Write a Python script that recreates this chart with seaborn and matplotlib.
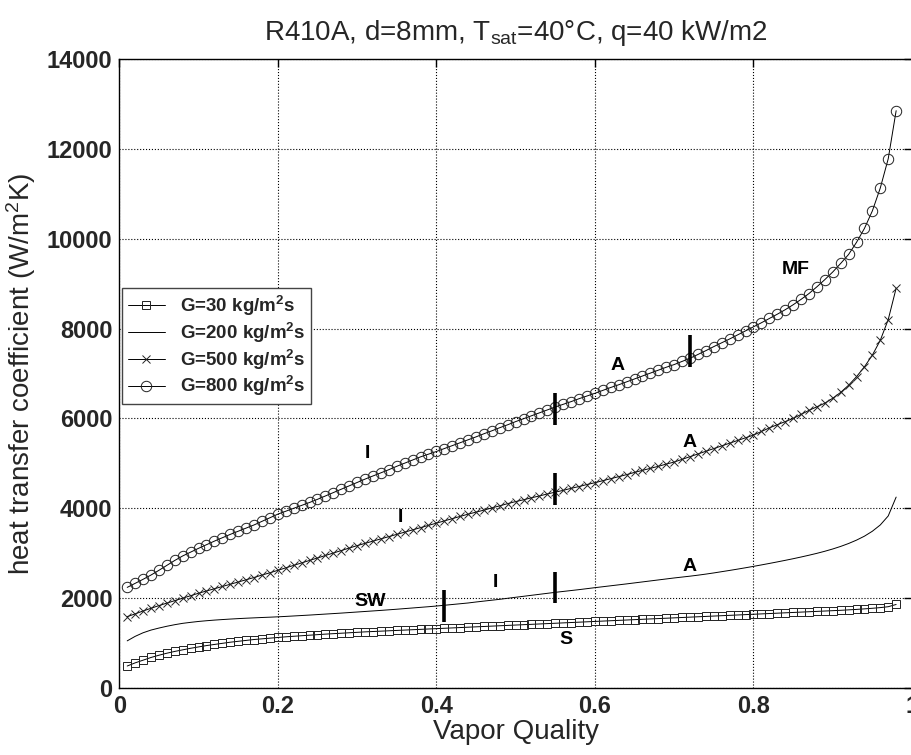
import numpy as np
import pandas as pd
import matplotlib
matplotlib.use("Agg")
import matplotlib.pyplot as plt
import seaborn as sns

# ---------------- data ----------------
quality = [round(0.01 * i, 2) for i in range(1, 99)]

h_G30 = [490, 560, 620, 680, 730, 775, 815, 850, 885, 915,
         945, 970, 995, 1020, 1040, 1060, 1080, 1095, 1110, 1125,
         1140, 1152, 1164, 1176, 1188, 1200, 1210, 1220, 1230, 1240,
         1250, 1258, 1266, 1274, 1282, 1290, 1298, 1306, 1314, 1322,
         1330, 1338, 1346, 1354, 1362, 1370, 1378, 1386, 1394, 1402,
         1410, 1418, 1426, 1434, 1442, 1450, 1458, 1466, 1474, 1482,
         1490, 1498, 1506, 1514, 1522, 1530, 1538, 1546, 1554, 1562,
         1570, 1578, 1586, 1594, 1602, 1610, 1618, 1626, 1634, 1642,
         1650, 1658, 1666, 1674, 1682, 1690, 1698, 1706, 1714, 1722,
         1730, 1740, 1750, 1762, 1775, 1790, 1810, 1860]

h_G200 = [1050, 1150, 1230, 1290, 1335, 1375, 1410, 1440, 1462, 1482,
          1498, 1512, 1524, 1535, 1545, 1554, 1562, 1570, 1577, 1585,
          1594, 1604, 1614, 1624, 1635, 1646, 1657, 1668, 1680, 1692,
          1704, 1716, 1728, 1741, 1754, 1768, 1782, 1796, 1810, 1825,
          1842, 1859, 1876, 1893, 1915, 1935, 1955, 1975, 1998, 2020,
          2042, 2064, 2086, 2108, 2130, 2150, 2170, 2190, 2212, 2234,
          2255, 2276, 2297, 2318, 2340, 2362, 2384, 2406, 2428, 2450,
          2470, 2490, 2512, 2536, 2562, 2590, 2618, 2647, 2677, 2708,
          2740, 2773, 2807, 2842, 2878, 2916, 2956, 2998, 3044, 3095,
          3152, 3217, 3292, 3380, 3490, 3630, 3830, 4250]

h_G500 = [1590, 1650, 1715, 1775, 1835, 1890, 1945, 2000, 2055, 2110,
          2160, 2210, 2260, 2310, 2360, 2410, 2460, 2515, 2565, 2620,
          2675, 2730, 2785, 2840, 2895, 2950, 3005, 3060, 3115, 3170,
          3220, 3270, 3320, 3370, 3420, 3470, 3520, 3570, 3620, 3670,
          3720, 3770, 3820, 3870, 3915, 3960, 4010, 4055, 4105, 4150,
          4190, 4235, 4275, 4320, 4360, 4400, 4445, 4485, 4530, 4570,
          4615, 4660, 4705, 4750, 4800, 4845, 4890, 4935, 4985, 5030,
          5090, 5150, 5210, 5270, 5330, 5390, 5450, 5510, 5570, 5630,
          5710, 5790, 5860, 5930, 6000, 6090, 6180, 6260, 6340, 6450,
          6580, 6740, 6930, 7150, 7410, 7740, 8200, 8900]

h_G800 = [2240, 2330, 2420, 2515, 2620, 2730, 2840, 2940, 3025, 3110,
          3190, 3270, 3345, 3420, 3490, 3560, 3630, 3710, 3790, 3870,
          3935, 4000, 4065, 4130, 4200, 4275, 4350, 4425, 4500, 4575,
          4650, 4720, 4790, 4860, 4935, 5005, 5075, 5145, 5205, 5265,
          5330, 5395, 5460, 5525, 5590, 5660, 5725, 5795, 5860, 5930,
          5995, 6060, 6125, 6190, 6255, 6315, 6375, 6440, 6500, 6560,
          6625, 6690, 6750, 6815, 6880, 6945, 7010, 7075, 7140, 7200,
          7270, 7340, 7425, 7510, 7600, 7685, 7770, 7860, 7950, 8040,
          8130, 8225, 8320, 8420, 8530, 8650, 8780, 8930, 9090, 9260,
          9450, 9650, 9920, 10230, 10620, 11130, 11780, 12850]

series_labels = ["G=30 kg/m$^2$s", "G=200 kg/m$^2$s",
                 "G=500 kg/m$^2$s", "G=800 kg/m$^2$s"]

# flow-pattern transition bars (x, y_low, y_high)
bar_x = [0.55, 0.72, 0.55, 0.55, 0.41]
bar_ylo = [5855, 7140, 4075, 1900, 1475]
bar_yhi = [6575, 7860, 4795, 2590, 2180]

# regime labels
regime_text = ["MF", "A", "I", "A", "I", "A", "I", "SW", "S"]
regime_x = [0.853, 0.629, 0.3135, 0.720, 0.355, 0.720, 0.475, 0.316, 0.563]
regime_y = [9305, 7168, 5224, 5461, 3791, 2716, 2344, 1921, 1084]

xticks = [0, 0.2, 0.4, 0.6, 0.8, 1]
xticklabels = ["0", "0.2", "0.4", "0.6", "0.8", "1"]
yticks = [0, 2000, 4000, 6000, 8000, 10000, 12000, 14000]

# ---------------- style ----------------
sns.set_theme(style="white")
plt.rcParams["font.family"] = ["Liberation Sans", "DejaVu Sans"]
plt.rcParams["mathtext.default"] = "regular"

fig = plt.figure(figsize=(9.12, 7.55), dpi=100)
ax = fig.add_axes([0.1308, 0.0887, 0.8692, 0.8331])

df = pd.DataFrame({
    "x": quality * 4,
    "h": h_G30 + h_G200 + h_G500 + h_G800,
    "G": sum([[lab] * len(quality) for lab in series_labels], []),
})

markers = ["s", None, "x", "o"]
msizes = [5.5, 0, 5.5, 7.5]
for lab, mk, ms in zip(series_labels, markers, msizes):
    sub = df[df["G"] == lab]
    kw = dict(color="black", linewidth=0.7, ax=ax, label=lab)
    if mk is not None:
        kw.update(marker=mk, markersize=ms, markerfacecolor="none",
                  markeredgecolor="#222222", markeredgewidth=0.7)
    sns.lineplot(data=sub, x="x", y="h", **kw)

for xb, y0, y1 in zip(bar_x, bar_ylo, bar_yhi):
    ax.plot([xb, xb], [y0, y1], color="black", linewidth=2.6,
            solid_capstyle="butt")

for t, xt, yt in zip(regime_text, regime_x, regime_y):
    ax.text(xt, yt, t, fontsize=14, fontweight="bold", ha="center",
            va="center", color="black")

ax.set_xlim(0, 1)
ax.set_ylim(0, 14000)
ax.set_xticks(xticks)
ax.set_xticklabels(xticklabels)
ax.set_yticks(yticks)
ax.tick_params(direction="in", length=6, width=1, top=True, right=True,
               labelsize=17, color="black", pad=5)
for lbl in ax.get_xticklabels() + ax.get_yticklabels():
    lbl.set_fontweight("bold")
ax.grid(True, linestyle=":", color="black", linewidth=0.8)
for s in ax.spines.values():
    s.set_color("black")
    s.set_linewidth(1.0)

ax.set_xlabel("Vapor Quality", fontsize=20, labelpad=1)
ax.set_ylabel("heat transfer coefficient (W/m$^2$K)", fontsize=20, labelpad=6)
ax.set_title("R410A, d=8mm, T$_{sat}$=40°C, q=40 kW/m2", fontsize=20, pad=14)

leg = ax.legend(loc="upper left", bbox_to_anchor=(0.0034, 0.636),
                borderaxespad=0, frameon=True, fancybox=False,
                framealpha=1, edgecolor="#444444",
                prop={"weight": "bold", "size": 13.5},
                handlelength=2.0, handletextpad=0.8, labelspacing=0.15,
                borderpad=0.3)
leg.get_frame().set_linewidth(1.0)

fig.savefig("out.png", dpi=100)
